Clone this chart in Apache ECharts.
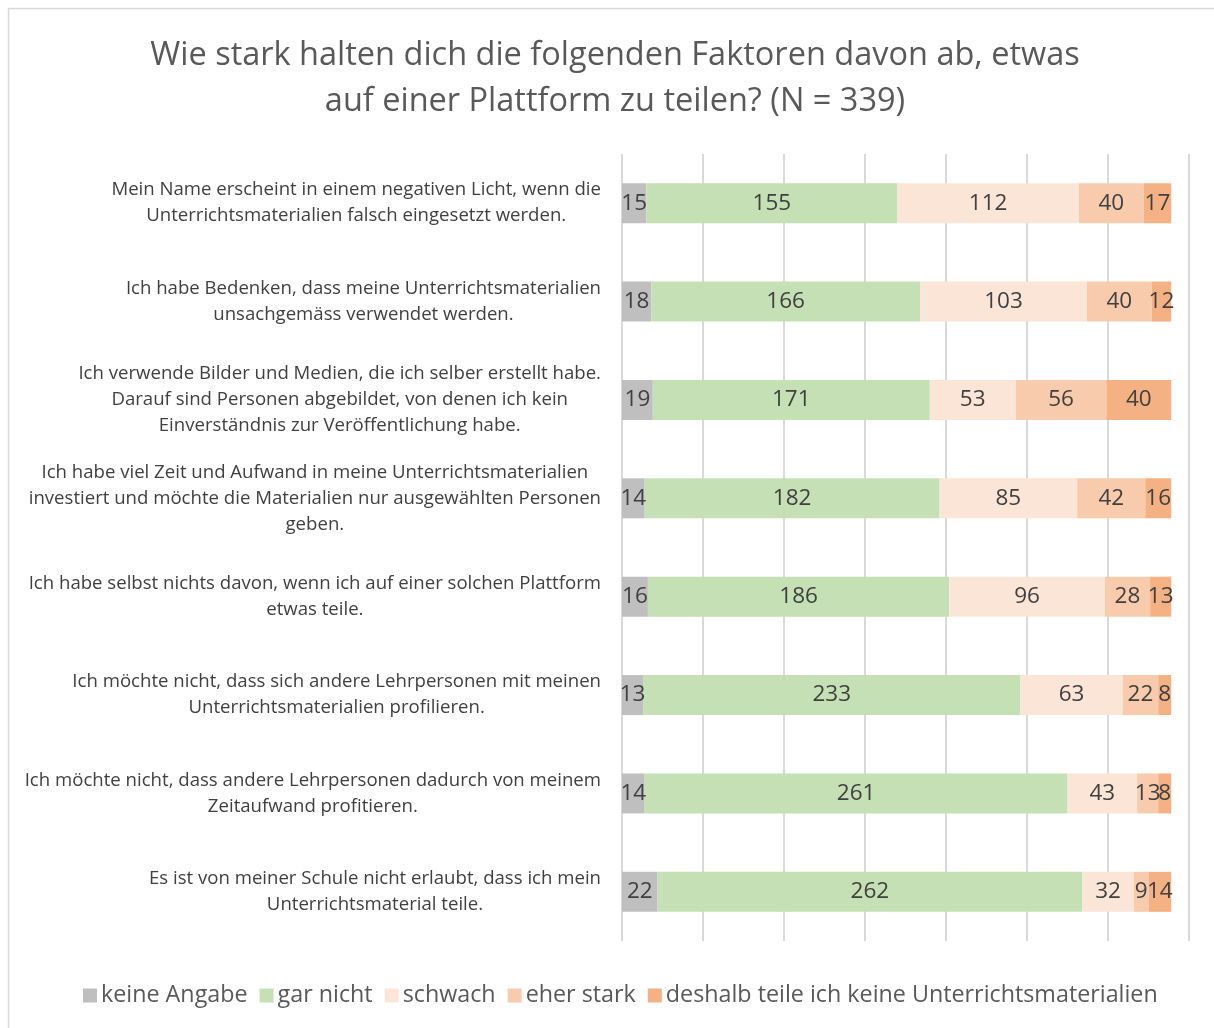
<!DOCTYPE html>
<html>
<head>
<meta charset="utf-8">
<script src="https://cdn.jsdelivr.net/npm/echarts@6/dist/echarts.min.js"></script>
<style>
html,body{margin:0;padding:0;background:#fff;}
#chart{width:1214px;height:1028px;}
</style>
</head>
<body>
<div id="chart"></div>
<script>
const categories = [
  "Mein Name erscheint in einem negativen Licht, wenn die\nUnterrichtsmaterialien falsch eingesetzt werden.",
  "Ich habe Bedenken, dass meine Unterrichtsmaterialien\nunsachgemäss verwendet werden.",
  "Ich verwende Bilder und Medien, die ich selber erstellt habe.\nDarauf sind Personen abgebildet, von denen ich kein\nEinverständnis zur Veröffentlichung habe.",
  "Ich habe viel Zeit und Aufwand in meine Unterrichtsmaterialien\ninvestiert und möchte die Materialien nur ausgewählten Personen\ngeben.",
  "Ich habe selbst nichts davon, wenn ich auf einer solchen Plattform\netwas teile.",
  "Ich möchte nicht, dass sich andere Lehrpersonen mit meinen\nUnterrichtsmaterialien profilieren.",
  "Ich möchte nicht, dass andere Lehrpersonen dadurch von meinem\nZeitaufwand profitieren.",
  "Es ist von meiner Schule nicht erlaubt, dass ich mein\nUnterrichtsmaterial teile."
];
const seriesNames = ["keine Angabe", "gar nicht", "schwach", "eher stark", "deshalb teile ich keine Unterrichtsmaterialien"];
const keineAngabe = [15, 18, 19, 14, 16, 13, 14, 22];
const garNicht    = [155, 166, 171, 182, 186, 233, 261, 262];
const schwach     = [112, 103, 53, 85, 96, 63, 43, 32];
const eherStark   = [40, 40, 56, 42, 28, 22, 13, 9];
const deshalb     = [17, 12, 40, 16, 13, 8, 8, 14];
const colors = ["#BFBFBF", "#C5E0B4", "#FBE5D6", "#F8CBAD", "#F4B183"];

const FONT = "'Open Sans', sans-serif";
const allData = [keineAngabe, garNicht, schwach, eherStark, deshalb];

const chart = echarts.init(document.getElementById('chart'));
chart.setOption({
  backgroundColor: '#fff',
  animation: false,
  color: colors,
  textStyle: { fontFamily: FONT },
  title: {
    text: "Wie stark halten dich die folgenden Faktoren davon ab, etwas\nauf einer Plattform zu teilen? (N = 339)",
    left: 610, textAlign: 'center', top: 28,
    textStyle: { fontFamily: FONT, fontSize: 32.5, fontWeight: 'normal', color: '#595959', lineHeight: 46 }
  },
  legend: {
    bottom: 16, left: 78,
    itemWidth: 14, itemHeight: 14, itemGap: 12,
    icon: 'rect',
    textStyle: { fontFamily: FONT, fontSize: 23.3, color: '#595959', padding: [0, 0, 0, -1] },
    data: seriesNames
  },
  grid: { left: 622, right: 25, top: 154, bottom: 87, containLabel: false },
  xAxis: {
    type: 'value', min: 0, max: 350, interval: 50,
    axisLabel: { show: false }, axisLine: { show: false }, axisTick: { show: false },
    splitLine: { show: true, lineStyle: { color: '#D9D9D9', width: 2 } }
  },
  yAxis: {
    type: 'category', inverse: true, data: categories,
    axisLine: { show: false }, axisTick: { show: false },
    axisLabel: {
      margin: 21, fontSize: 18.6, color: '#404040', lineHeight: 26,
      formatter: function (v) { return v.split('\n').map(l => '{c|' + l + '}').join('\n'); },
      rich: { c: { align: 'center', fontSize: 18.6, color: '#404040', lineHeight: 26, fontFamily: FONT } }
    }
  },
  series: seriesNames.map((n, i) => ({
    name: n, type: 'bar', stack: 'total', barWidth: 40,
    data: allData[i],
    itemStyle: { color: colors[i] },
    label: { show: true, position: 'inside', fontSize: 22.5, color: '#404040', fontFamily: FONT }
  })),
  graphic: [{
    type: 'rect', shape: { x: 8.5, y: 8.5, width: 1300, height: 1100 },
    style: { fill: 'none', stroke: '#D9D9D9', lineWidth: 1.5 }, silent: true, z: -1
  }]
});
</script>
</body>
</html>
